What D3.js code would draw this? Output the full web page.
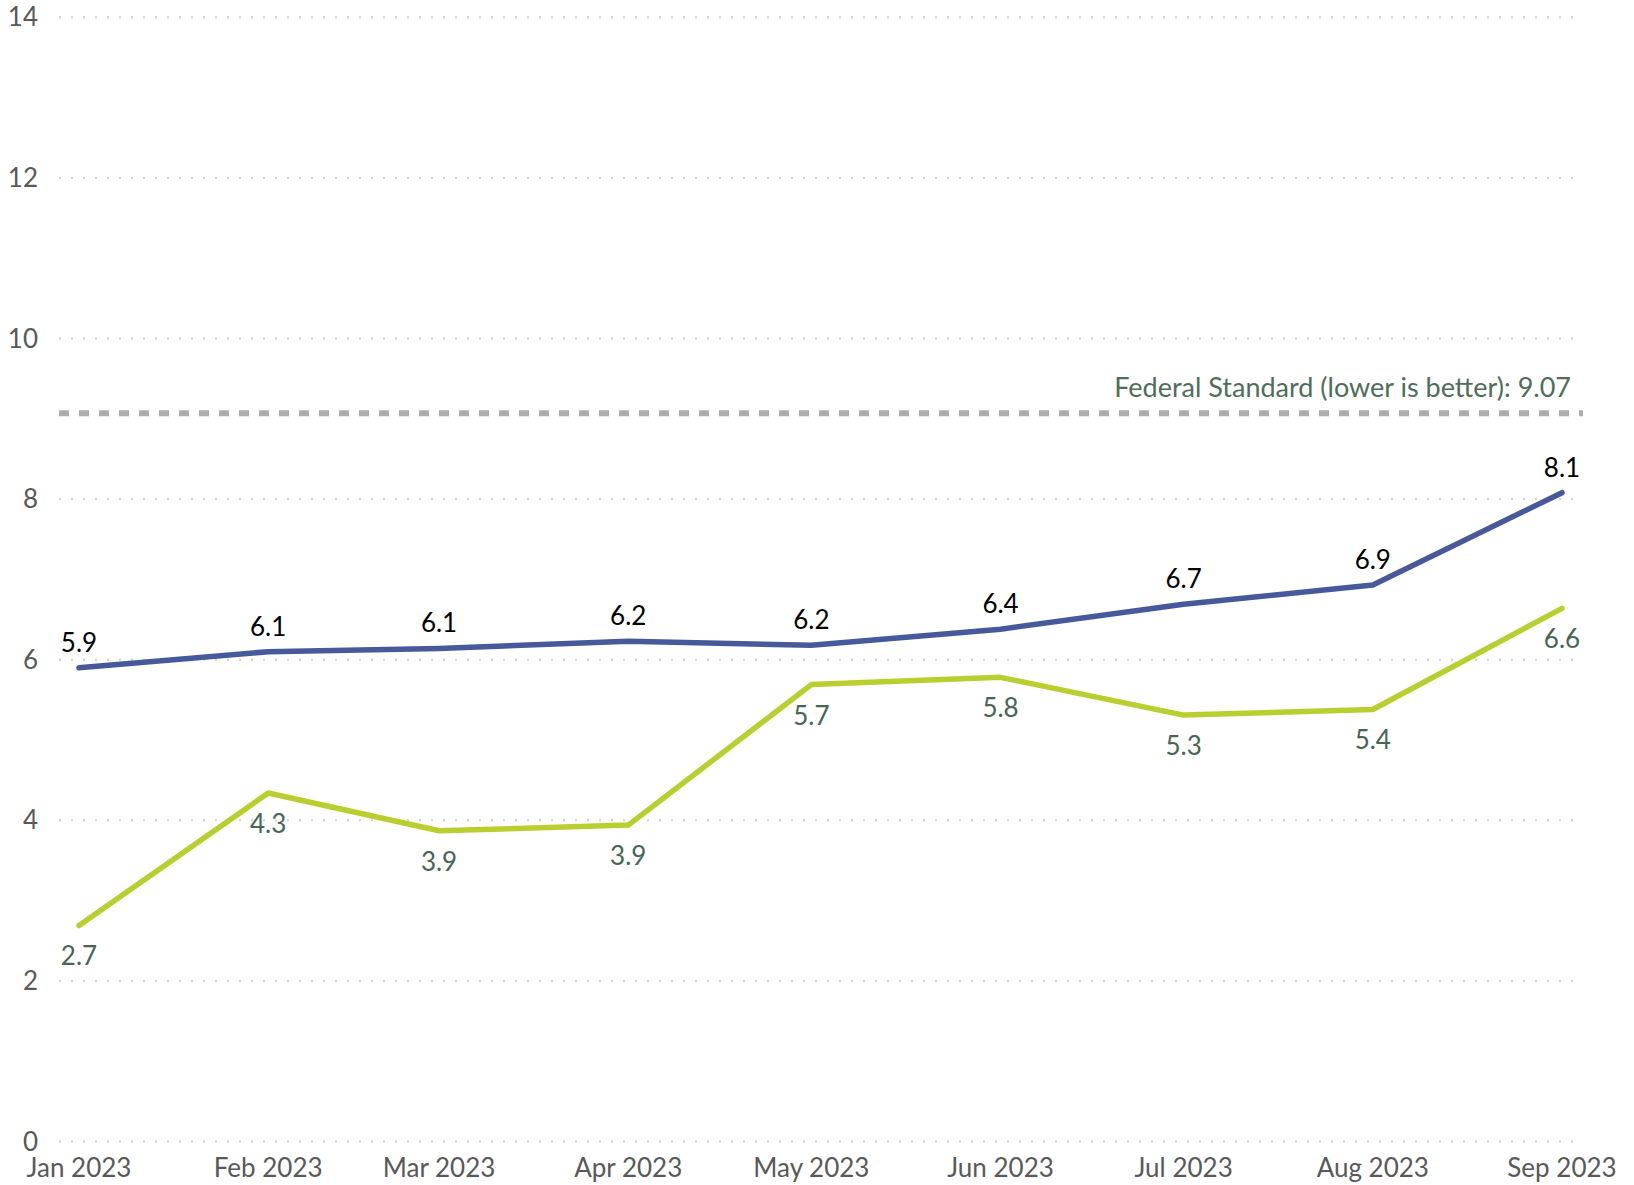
<!DOCTYPE html>
<html>
<head>
<meta charset="utf-8">
<script src="https://cdn.jsdelivr.net/npm/d3@7"></script>
<style>
  body { margin: 0; background: #fff; }
  svg { display: block; font-family: Lato, "Open Sans", sans-serif; }
</style>
</head>
<body>
<svg id="chart"></svg>
<script>
(function () {

  // months shown on the x axis
  var months = ['2023-01-01', '2023-02-01', '2023-03-01', '2023-04-01', '2023-05-01',
                '2023-06-01', '2023-07-01', '2023-08-01', '2023-09-01'];
  var blueValues = [5.9, 6.1, 6.14, 6.23, 6.18, 6.38, 6.69, 6.93, 8.08];
  var greenValues = [2.69, 4.34, 3.87, 3.94, 5.69, 5.78, 5.31, 5.38, 6.64];
  var yTicks = [0, 2, 4, 6, 8, 10, 12, 14];
  var federalStandard = 9.07;
  var federalLabel = 'Federal Standard (lower is better): 9.07';

  var width = 1634, height = 1185;
  var parse = d3.timeParse('%Y-%m-%d');
  var dates = months.map(parse);

  var svg = d3.select('#chart')
      .attr('width', width)
      .attr('height', height);

  var x = d3.scaleTime()
      .domain(d3.extent(dates))
      .range([79, 1562]);
  var y = d3.scaleLinear()
      .domain([0, 14])
      .range([1141.5, 17.3]);

  // dotted gridlines + y labels
  var grid = svg.append('g');
  grid.selectAll('line')
    .data(yTicks)
    .enter().append('line')
    .attr('x1', 59)
    .attr('x2', 1574)
    .attr('y1', function(d) { return y(d); })
    .attr('y2', function(d) { return y(d); })
    .style('stroke', '#d0d0d0')
    .style('stroke-width', 2)
    .style('stroke-dasharray', '2,10');

  grid.selectAll('text')
    .data(yTicks)
    .enter().append('text')
    .attr('x', 38)
    .attr('y', function(d) { return y(d); })
    .attr('dy', '0.35em')
    .style('text-anchor', 'end')
    .style('font-size', '26px')
    .style('fill', '#595959')
    .text(function(d) { return d; });

  // x labels
  var fmt = d3.timeFormat('%b %Y');
  svg.append('g').selectAll('text')
    .data(dates)
    .enter().append('text')
    .attr('x', function(d) { return x(d); })
    .attr('y', 1177)
    .style('text-anchor', 'middle')
    .style('font-size', '26px')
    .style('fill', '#595959')
    .text(function(d) { return fmt(d); });

  // federal standard
  svg.append('line')
    .attr('x1', 59)
    .attr('x2', 1583)
    .attr('y1', y(federalStandard))
    .attr('y2', y(federalStandard))
    .style('stroke', '#adadad')
    .style('stroke-width', 6)
    .style('stroke-dasharray', '10,10');

  svg.append('text')
    .attr('x', 1571)
    .attr('y', y(federalStandard) - 16)
    .style('text-anchor', 'end')
    .style('font-size', '27px')
    .style('fill', '#4e6e5a')
    .text(federalLabel);

  var line = d3.line()
      .x(function(d) { return x(d.date); })
      .y(function(d) { return y(d.value); });

  function series(values, color, labelColor, dy) {
    var pts = values.map(function(v, i) { return {date: dates[i], value: v}; });
    svg.append('path')
      .datum(pts)
      .attr('d', line)
      .style('fill', 'none')
      .style('stroke', color)
      .style('stroke-width', 5.5)
      .style('stroke-linecap', 'round')
      .style('stroke-linejoin', 'round');

    svg.append('g').selectAll('text')
      .data(pts)
      .enter().append('text')
      .attr('x', function(d) { return x(d.date); })
      .attr('y', function(d) { return y(d.value) + dy; })
      .style('text-anchor', 'middle')
      .style('font-size', '26px')
      .style('fill', labelColor)
      .text(function(d) { return d.value.toFixed(1); });
  }

  series(blueValues, '#47599b', '#000', -16);
  series(greenValues, '#b9cf2f', '#466555', 40);
})();
</script>
</body>
</html>
